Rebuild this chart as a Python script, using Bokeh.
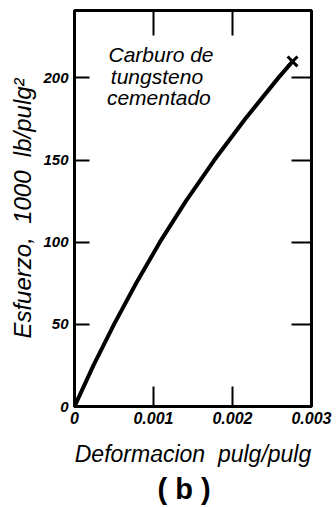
from bokeh.plotting import figure
from bokeh.models import (LinearAxis, FixedTicker, CustomJSTickFormatter, Label, Range1d, Title)
from bokeh.embed import file_html
from bokeh.resources import INLINE

# Data
strain = [0.0, 0.00024, 0.00050, 0.00078, 0.00108, 0.00141, 0.00177, 0.00216, 0.00258, 0.00276]
stress = [0, 25, 50, 75, 100, 125, 150, 175, 200, 210]
end_strain = [0.00276]
end_stress = [210]
x_ticks = [0, 0.001, 0.002, 0.003]
y_ticks = [0, 50, 100, 150, 200]
title_lines = ["Carburo de", "tungsteno", "cementado"]
x_label = "Deformacion\u00a0\u00a0pulg/pulg"
y_label = "Esfuerzo,\u00a0\u00a01000\u00a0\u00a0lb/pulg²"
panel_tag = "( b )"

FONT = "Liberation Sans"
W, H = 336, 507

p = figure(width=W, height=H, output_backend="svg", toolbar_location=None,
           x_range=Range1d(0, 0.003), y_range=Range1d(0, 241),
           min_border_left=74, min_border_right=25, min_border_top=10,
           min_border_bottom=101)
p.grid.visible = False
p.outline_line_color = "black"
p.outline_line_width = 3
p.background_fill_color = "white"
p.border_fill_color = "white"

fmt = CustomJSTickFormatter(code="return tick == 0 ? '0' : tick.toFixed(3);")

xa = p.xaxis[0]
xa.ticker = FixedTicker(ticks=x_ticks)
xa.formatter = fmt
xa.major_tick_in = 20
xa.major_tick_out = 0
xa.minor_tick_line_color = None
xa.axis_line_width = 3
xa.major_tick_line_width = 2
xa.major_label_text_font = FONT
xa.major_label_text_font_style = "bold italic"
xa.major_label_text_font_size = "16px"
xa.major_label_text_color = "black"
xa.major_label_standoff = 5
xa.axis_label = x_label
xa.axis_label_text_font = FONT
xa.axis_label_text_font_style = "italic"
xa.axis_label_text_font_size = "23px"
xa.axis_label_text_color = "black"
xa.axis_label_standoff = 14

ya = p.yaxis[0]
ya.ticker = FixedTicker(ticks=y_ticks)
ya.major_tick_in = 15
ya.major_tick_out = 0
ya.minor_tick_line_color = None
ya.axis_line_width = 3
ya.major_tick_line_width = 2
ya.major_label_text_font = FONT
ya.major_label_text_font_style = "bold italic"
ya.major_label_text_font_size = "15px"
ya.major_label_text_color = "black"
ya.major_label_standoff = 6
ya.axis_label = y_label
ya.axis_label_text_font = FONT
ya.axis_label_text_font_style = "italic"
ya.axis_label_text_font_size = "24px"
ya.axis_label_text_color = "black"
ya.axis_label_standoff = 4

hidden = CustomJSTickFormatter(code="return '';")

ra = LinearAxis(ticker=FixedTicker(ticks=[50, 100, 150, 200]), formatter=hidden)
ra.major_tick_in = 20
ra.major_tick_out = 0
ra.minor_tick_line_color = None
ra.axis_line_color = None
ra.major_tick_line_width = 2
ra.major_label_text_font_size = "1px"
ra.major_label_text_color = None
ra.major_label_standoff = 0
p.add_layout(ra, "right")

ta = LinearAxis(ticker=FixedTicker(ticks=[0.001, 0.002]), formatter=hidden)
ta.major_tick_in = 25
ta.major_tick_out = 0
ta.minor_tick_line_color = None
ta.axis_line_color = None
ta.major_tick_line_width = 2
ta.major_label_text_font_size = "1px"
ta.major_label_text_color = None
ta.major_label_standoff = 0
p.add_layout(ta, "above")

p.add_layout(Title(text=panel_tag, align="left", offset=83, text_font=FONT,
                   text_font_style="bold", text_font_size="29px", text_color="black",
                   standoff=2), "below")

p.line(strain, stress, line_color="black", line_width=4)
p.scatter(end_strain, end_stress, marker="x", size=14, line_color="black", line_width=3)

ys = [214, 201, 188]
xs = [0.00043, 0.00046, 0.00041]
for t, xv, yv in zip(title_lines, xs, ys):
    p.add_layout(Label(x=xv, y=yv, text=t, text_font=FONT, text_font_style="italic",
                       text_font_size="21px", text_baseline="middle", text_align="left",
                       text_color="black"))

open("out.html", "w").write(file_html(p, INLINE))
